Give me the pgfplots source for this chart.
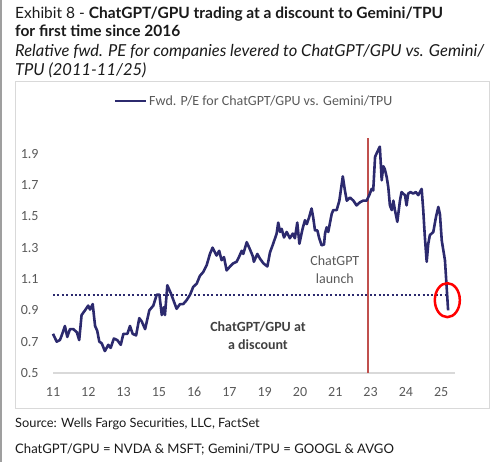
\documentclass[border=0pt]{standalone}
\usepackage{pgfplots}
\pgfplotsset{compat=1.18}
\usepackage{pgfplotstable}
\usepackage{fontspec}
\setmainfont{Lato}
\newfontfamily\calfont{Carlito}
\definecolor{navy}{RGB}{44,42,110}
\definecolor{tickgray}{RGB}{89,89,89}
\definecolor{darkgray2}{RGB}{64,64,64}
\definecolor{bordergray}{RGB}{217,217,217}
\definecolor{launchred}{RGB}{192,80,77}
\definecolor{titleblack}{RGB}{26,26,26}
\pgfplotstableread{
year value
2011.00 0.75
2011.14 0.70
2011.26 0.71
2011.33 0.74
2011.45 0.80
2011.54 0.73
2011.64 0.78
2011.77 0.78
2011.90 0.76
2011.99 0.71
2012.08 0.87
2012.21 0.90
2012.33 0.93
2012.40 0.905
2012.50 0.94
2012.59 0.80
2012.67 0.77
2012.75 0.70
2012.84 0.69
2012.96 0.64
2013.09 0.68
2013.18 0.66
2013.30 0.72
2013.43 0.71
2013.56 0.68
2013.66 0.75
2013.81 0.75
2013.91 0.80
2014.01 0.75
2014.14 0.74
2014.26 0.85
2014.35 0.83
2014.48 0.78
2014.64 0.90
2014.79 0.93
2014.92 1.00
2015.02 1.00
2015.11 0.87
2015.19 0.92
2015.23 0.87
2015.32 1.06
2015.45 1.01
2015.55 0.965
2015.67 0.91
2015.80 0.94
2015.92 0.94
2016.05 0.965
2016.18 1.00
2016.30 1.05
2016.43 1.07
2016.55 1.12
2016.68 1.145
2016.81 1.19
2016.93 1.26
2017.03 1.30
2017.12 1.27
2017.18 1.25
2017.28 1.28
2017.37 1.22
2017.46 1.24
2017.56 1.155
2017.69 1.18
2017.81 1.20
2017.94 1.21
2018.04 1.245
2018.13 1.28
2018.19 1.26
2018.32 1.335
2018.44 1.29
2018.55 1.245
2018.59 1.21
2018.72 1.26
2018.82 1.23
2018.95 1.20
2019.10 1.18
2019.20 1.27
2019.32 1.325
2019.45 1.39
2019.51 1.46
2019.58 1.40
2019.64 1.42
2019.73 1.365
2019.83 1.40
2019.95 1.36
2020.06 1.39
2020.14 1.36
2020.23 1.46
2020.31 1.325
2020.43 1.42
2020.52 1.475
2020.59 1.45
2020.68 1.495
2020.77 1.55
2020.83 1.495
2020.90 1.41
2020.99 1.41
2021.06 1.36
2021.15 1.315
2021.24 1.32
2021.28 1.39
2021.34 1.43
2021.40 1.40
2021.53 1.515
2021.59 1.54
2021.72 1.54
2021.82 1.60
2021.95 1.755
2022.03 1.665
2022.10 1.60
2022.22 1.62
2022.35 1.60
2022.47 1.57
2022.60 1.59
2022.72 1.60
2022.85 1.60
2022.95 1.635
2023.04 1.675
2023.10 1.665
2023.17 1.88
2023.25 1.91
2023.35 1.945
2023.42 1.73
2023.48 1.82
2023.54 1.80
2023.61 1.75
2023.67 1.685
2023.73 1.57
2023.80 1.54
2023.86 1.60
2023.92 1.54
2024.01 1.465
2024.11 1.60
2024.17 1.655
2024.23 1.645
2024.30 1.635
2024.36 1.57
2024.42 1.645
2024.51 1.655
2024.61 1.645
2024.71 1.655
2024.80 1.635
2024.93 1.675
2024.99 1.54
2025.05 1.37
2025.12 1.21
2025.18 1.325
2025.24 1.38
2025.37 1.40
2025.47 1.495
2025.56 1.56
2025.62 1.515
2025.69 1.345
2025.81 1.22
2025.93 0.90
}\pedata
\begin{document}
\begin{tikzpicture}
\useasboundingbox (0,0) rectangle (500bp,462bp);
\fill[gray!75] (0,0) rectangle (2bp,462bp);
\draw[draw=bordergray, line width=1bp] (15bp,53bp) rectangle (489bp,380bp);
% titles
\node[anchor=base west, inner sep=0, text=titleblack, font=\fontsize{15.5bp}{18bp}\selectfont] at (15bp,443bp) {Exhibit 8 - \textbf{ChatGPT/GPU trading at a discount to Gemini/TPU}};
\node[anchor=base west, inner sep=0, text=titleblack, font=\fontsize{15.5bp}{18bp}\selectfont\bfseries] at (15bp,425bp) {for first time since 2016};
\node[anchor=base west, inner sep=0, text=titleblack, font=\fontsize{16.5bp}{19bp}\selectfont\itshape] at (15bp,405bp) {Relative fwd. PE for companies levered to ChatGPT/GPU vs. Gemini/};
\node[anchor=base west, inner sep=0, text=titleblack, font=\fontsize{16.5bp}{19bp}\selectfont\itshape] at (15bp,386bp) {TPU (2011-11/25)};
% source
\node[anchor=base west, inner sep=0, text=titleblack, font=\fontsize{12.8bp}{15bp}\selectfont] at (15bp,35bp) {Source: Wells Fargo Securities, LLC, FactSet};
\node[anchor=base west, inner sep=0, text=titleblack, font=\fontsize{13.1bp}{15bp}\selectfont] at (15bp,9bp) {ChatGPT/GPU = NVDA \& MSFT; Gemini/TPU = GOOGL \& AVGO};
\begin{axis}[
  at={(53bp,89bp)}, anchor=south west,
  scale only axis, width=402bp, height=235bp,
  xmin=2011, xmax=2026.19, ymin=0.5, ymax=2.0,
  axis line style={draw=none},
  major tick length=0pt,
  xtick={2011,2012.3333,2013.6667,2015,2016.3333,2017.6667,2019,2020.3333,2021.6667,2023,2024.3333,2025.6667},
  xticklabels={11,12,13,15,16,17,19,20,21,23,24,25},
  ytick={0.5,0.7,0.9,1.1,1.3,1.5,1.7,1.9},
  yticklabels={0.5,0.7,0.9,1.1,1.3,1.5,1.7,1.9},
  ticklabel style={font=\calfont\fontsize{14bp}{16bp}\selectfont, text=tickgray},
  xticklabel style={yshift=-11bp},
  yticklabel style={xshift=-11bp},
  clip=false,
  legend style={at={(0.5,1.157)}, anchor=center, draw=none, fill=none, font=\calfont\fontsize{14bp}{16bp}\selectfont, text=tickgray, inner sep=0pt},
  legend image code/.code={\draw[#1] (0bp,0bp) -- (31bp,0bp);},
]
\draw[bordergray, line width=1.2bp] (axis cs:2011,0.5) -- (axis cs:2026.19,0.5);
\draw[launchred, line width=2bp] (axis cs:2022.91,0.5) -- (axis cs:2022.91,2.0);
\addplot[navy, line width=2bp, dash pattern=on 2bp off 2.4bp, forget plot] coordinates {(2011,1.0) (2025.85,1.0)};
\addplot[navy, line width=2.6bp, line join=round] table[x=year, y=value] {\pedata};
\addlegendentry{Fwd. P/E for ChatGPT/GPU vs. Gemini/TPU}
\draw[red, line width=2.5bp] (axis cs:2025.90,0.965) ellipse [x radius=12.5bp, y radius=17bp];
\node[anchor=base, inner sep=0, font=\calfont\fontsize{14bp}{16bp}\selectfont, text=tickgray] at (axis cs:2021.65,1.187) {ChatGPT};
\node[anchor=base, inner sep=0, font=\calfont\fontsize{14bp}{16bp}\selectfont, text=tickgray] at (axis cs:2021.65,1.073) {launch};
\node[anchor=base, inner sep=0, font=\calfont\fontsize{14bp}{16bp}\selectfont\bfseries, text=darkgray2] at (axis cs:2018.745,0.763) {ChatGPT/GPU at};
\node[anchor=base, inner sep=0, font=\calfont\fontsize{14bp}{16bp}\selectfont\bfseries, text=darkgray2] at (axis cs:2018.745,0.653) {a discount};
\end{axis}
\end{tikzpicture}
\end{document}
